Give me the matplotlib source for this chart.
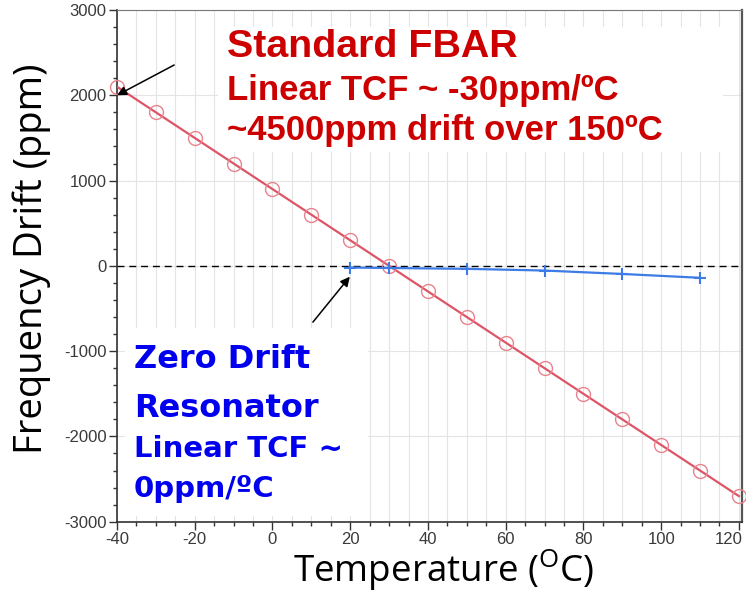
import matplotlib
matplotlib.use("Agg")
import matplotlib.pyplot as plt
import matplotlib.transforms as mtransforms
from matplotlib.patches import Rectangle
from matplotlib.ticker import MultipleLocator

# data
fbar_temp = [-40, -30, -20, -10, 0, 10, 20, 30, 40, 50, 60, 70, 80, 90, 100, 110, 120]
fbar_drift = [2100, 1800, 1500, 1200, 900, 600, 300, 0, -300, -600, -900,
              -1200, -1500, -1800, -2100, -2400, -2700]
zdr_temp = [20, 30, 50, 70, 90, 110]
zdr_drift = [-20, -25, -35, -55, -95, -140]

x_ticks = [-40, -20, 0, 20, 40, 60, 80, 100, 120]
y_ticks = [-3000, -2000, -1000, 0, 1000, 2000, 3000]

red_lines = ["Standard FBAR", "Linear TCF ~ -30ppm/\u00baC", "~4500ppm drift over 150\u00baC"]
blue_lines = ["Zero Drift", "Resonator", "Linear TCF ~", "0ppm/\u00baC"]

# arrow (tip, tail) in data units
arrow_fbar = ((-40, 2000), (-25.3, 2355))
arrow_zdr = ((19.9, -127), (10.4, -660))

plt.rcParams["axes.unicode_minus"] = False
plt.rcParams["mathtext.fontset"] = "custom"
plt.rcParams["mathtext.rm"] = "Open Sans"

W, H = 746, 595
fig = plt.figure(figsize=(W / 100, H / 100), dpi=100)
ax = fig.add_axes([117 / W, 1 - 521.7 / H, (742 - 117) / W, (521.7 - 10) / H])

ax.set_xlim(-40, 120.8)
ax.set_ylim(-3000, 3000)
ax.set_xticks(x_ticks)
ax.set_yticks(y_ticks)
ax.xaxis.set_minor_locator(MultipleLocator(5))
ax.yaxis.set_minor_locator(MultipleLocator(200))

ax.set_axisbelow(True)
ax.grid(axis="x", which="both", color="#e4e4e4", lw=0.8)
ax.grid(axis="y", which="major", color="#e4e4e4", lw=0.8)

ax.tick_params(which="both", direction="out", top=False, right=False,
               colors="#333333", labelcolor="#3a3a3a", labelsize=12,
               labelfontfamily="Liberation Sans")
ax.tick_params(which="major", length=6, width=1, pad=1.5)
ax.tick_params(which="minor", length=3, width=1)

# last x label sits flush at the right edge, as in the source
last = ax.xaxis.get_major_ticks()[-1].label1
last.set_horizontalalignment("right")
last.set_transform(last.get_transform()
                   + mtransforms.ScaledTranslation(4 / 100, 0, fig.dpi_scale_trans))

for side in ["left", "bottom"]:
    ax.spines[side].set_color("#333333")
    ax.spines[side].set_linewidth(1.2)
ax.spines["top"].set_color("#777777")
ax.spines["right"].set_color("#555555")
ax.spines["right"].set_linewidth(1.6)

ax.axhline(0, color="black", lw=1, ls=(0, (5, 3.5)), zorder=1.5)

# white backing for the annotation texts (pixel boxes)
ax.add_patch(Rectangle((218, H - 152), 505, 125, transform=None, facecolor="white",
                       edgecolor="none", zorder=1))
ax.add_patch(Rectangle((125, H - 516), 243, 188, transform=None, facecolor="white",
                       edgecolor="none", zorder=1))

ax.plot(fbar_temp, fbar_drift, color="#dd5566", lw=1.6, zorder=3)
ax.plot(fbar_temp, fbar_drift, ls="none", marker="o", ms=10, mfc="none",
        mec="#e8838e", mew=1.0, zorder=3, clip_on=False)
ax.plot(zdr_temp, zdr_drift, color="#3d7be6", lw=1.6, marker="+", ms=9,
        mew=1.5, zorder=4)

for (tip, tail) in [arrow_fbar, arrow_zdr]:
    ax.annotate("", xy=tip, xytext=tail,
                arrowprops=dict(arrowstyle="-|>", color="black", lw=1.1,
                                mutation_scale=14, shrinkA=0, shrinkB=0),
                zorder=5)

red_specs = [(56.7, 28.4), (100, 25), (140, 25)]
for txt, (base, size) in zip(red_lines, red_specs):
    fig.text(227 / W, 1 - base / H, txt, color="#cc0000", fontsize=size,
             fontweight="bold", family="Liberation Sans", va="baseline", ha="left")

blue_specs = [(368, 23), (417, 23), (457, 21), (497, 21)]
for txt, (base, size) in zip(blue_lines, blue_specs):
    fig.text(134 / W, 1 - base / H, txt, color="#0000ee", fontsize=size,
             fontweight="bold", family="DejaVu Sans", va="baseline", ha="left")

fig.text(32 / W, 1 - 259 / H, "Frequency Drift (ppm)", rotation=90,
         family="Open Sans", fontsize=27.5, ha="center", va="center")
fig.text(444 / W, 1 - 582 / H, r"Temperature ($\mathregular{^{O}}$C)",
         family="Open Sans", fontsize=26.5, ha="center", va="baseline")

fig.savefig("out.png", dpi=100)
